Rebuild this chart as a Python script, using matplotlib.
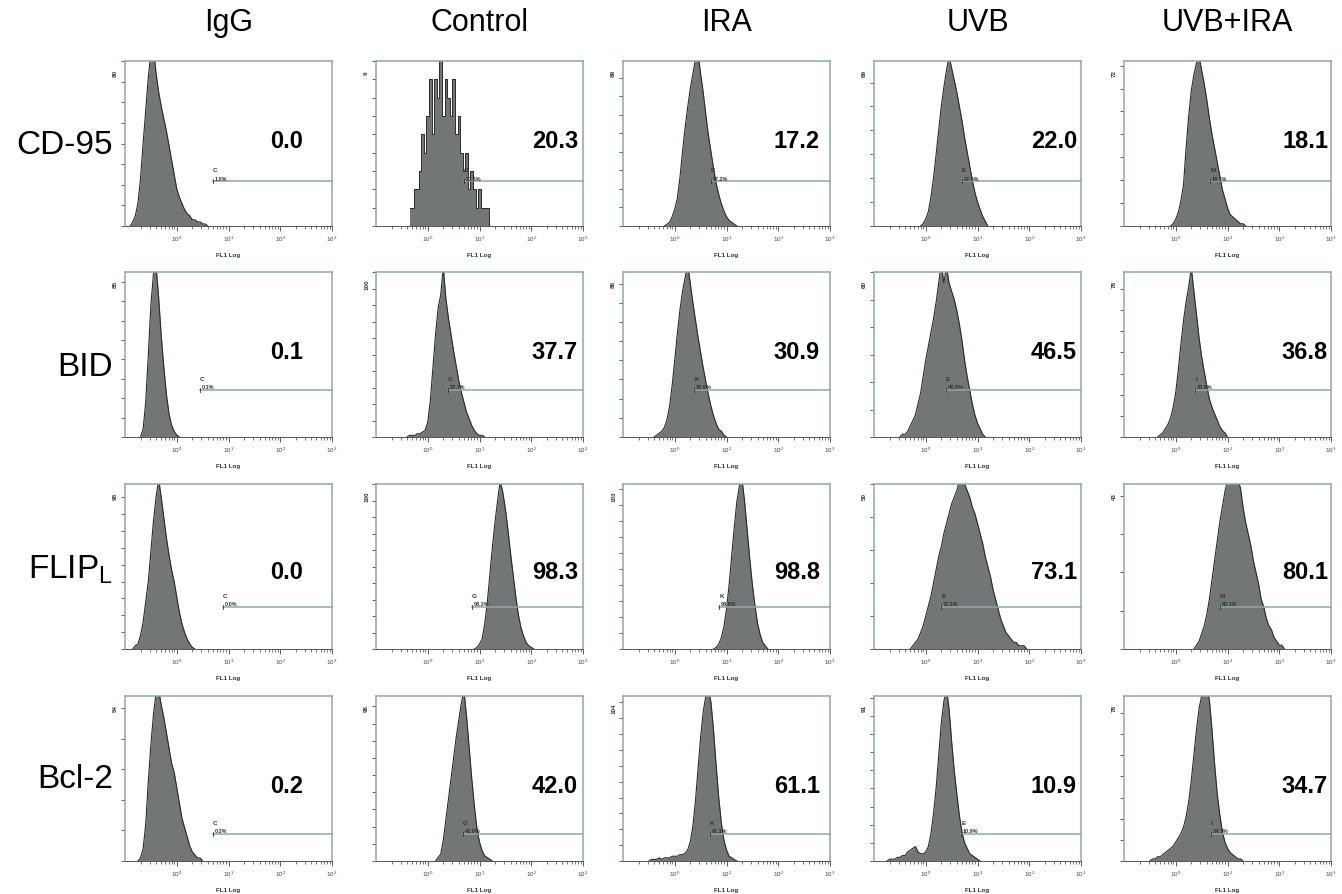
import numpy as np
import matplotlib.pyplot as plt

plt.rcParams['font.family'] = ['Liberation Sans', 'DejaVu Sans']
plt.rcParams['mathtext.fontset'] = 'custom'
plt.rcParams['mathtext.rm'] = 'Liberation Sans'

groups = ['IgG', 'Control', 'IRA', 'UVB', 'UVB+IRA']
markers = ['CD-95', 'BID', r'FLIP$_\mathregular{L}$', 'Bcl-2']

# big numbers printed in each panel (% positive)
cd95_pct = [0.0, 20.3, 17.2, 22.0, 18.1]
bid_pct = [0.1, 37.7, 30.9, 46.5, 36.8]
flip_pct = [0.0, 98.3, 98.8, 73.1, 80.1]
bcl2_pct = [0.2, 42.0, 61.1, 10.9, 34.7]

# small readout on the marker line
cd95_gate_txt = ['1.0%', '20.3%', '17.2%', '22.0%', '18.1%']
bid_gate_txt = ['0.1%', '37.7%', '30.9%', '46.5%', '36.8%']
flip_gate_txt = ['0.0%', '98.3%', '98.8%', '73.1%', '80.1%']
bcl2_gate_txt = ['0.2%', '42.0%', '61.1%', '10.9%', '34.7%']

cd95_gate_id = ['C', 'G', 'K', 'E', 'M']
bid_gate_id = ['C', 'G', 'K', 'E', 'I']
flip_gate_id = ['C', 'G', 'K', 'E', 'M']
bcl2_gate_id = ['C', 'G', 'K', 'E', 'I']

# marker start (log10 FL1)
cd95_gate_start = [0.70, 0.70, 0.70, 0.70, 0.67]
bid_gate_start = [0.45, 0.39, 0.38, 0.385, 0.38]
flip_gate_start = [0.89, 0.85, 0.86, 0.30, 0.85]
bcl2_gate_start = [0.70, 0.68, 0.68, 0.69, 0.68]

# y-axis max printed by the cytometer
cd95_ymax = [80, 9, 89, 69, 72]
bid_ymax = [85, 100, 86, 60, 78]
flip_ymax = [98, 100, 103, 50, 43]
bcl2_ymax = [54, 96, 104, 91, 78]
cd95_ystep = [10, 1, 10, 10, 10]

# histograms: first channel (log10 FL1) and counts every 0.05 decade
cd95_start = [-0.90, -0.35, -0.20, -0.10, -0.10]
cd95_counts = [
    [0, 2, 5, 11, 23, 40, 56, 72, 84, 86, 74, 65, 58, 52, 46, 39, 32, 25, 18,
     14, 11, 8, 6, 5, 3, 3, 2, 2, 1, 1, 0],
    [1, 1, 2, 2, 3, 5, 4, 6, 8, 5, 8, 7, 10, 6, 8, 7, 6, 8, 5, 6, 4, 3, 4, 2,
     3, 2, 1, 2, 1, 1, 1, 0],
    [0, 1, 2, 5, 9, 15, 26, 40, 53, 64, 74, 82, 90, 93, 82, 72, 60, 49, 40,
     31, 23, 17, 12, 8, 5, 3, 2, 1, 0],
    [0, 1, 3, 6, 12, 20, 30, 40, 50, 58, 65, 71, 66, 61, 56, 50, 44, 37, 31,
     25, 19, 14, 10, 7, 4, 2, 0],
    [0, 1, 3, 6, 11, 18, 34, 48, 59, 66, 71, 74, 68, 62, 55, 47, 40, 34, 28,
     22, 16, 12, 8, 5, 4, 3, 2, 1, 1, 0],
]
bid_start = [-0.70, -0.40, -0.40, -0.50, -0.35]
bid_counts = [
    [0, 4, 18, 42, 68, 84, 88, 72, 52, 36, 22, 12, 6, 3, 1, 0],
    [0, 1, 1, 1, 2, 2, 3, 4, 9, 22, 42, 62, 78, 86, 103, 84, 72, 62, 52, 43,
     34, 27, 21, 15, 11, 7, 4, 2, 1, 1, 0],
    [0, 1, 2, 3, 5, 9, 16, 27, 40, 54, 66, 76, 83, 90, 80, 70, 61, 52, 44, 36,
     29, 22, 16, 11, 7, 4, 3, 1, 0],
    [0, 1, 1, 2, 4, 6, 8, 12, 16, 22, 28, 33, 38, 43, 49, 56, 63, 56, 62, 56,
     53, 50, 46, 41, 35, 28, 22, 17, 12, 8, 5, 3, 1, 0],
    [0, 1, 2, 4, 6, 9, 14, 21, 32, 44, 55, 64, 71, 80, 69, 58, 47, 38, 31, 24,
     18, 14, 11, 8, 5, 3, 2, 0],
]
flip_start = [-0.85, 0.90, 0.75, -0.30, 0.35]
flip_counts = [
    [0, 2, 3, 8, 16, 28, 40, 58, 76, 90, 101, 90, 78, 66, 56, 47, 40, 31, 22,
     15, 10, 6, 3, 1, 0],
    [0, 1, 3, 6, 15, 28, 45, 62, 77, 90, 102, 95, 85, 72, 58, 45, 32, 21, 13,
     8, 4, 2, 1, 0],
    [0, 1, 3, 7, 14, 25, 40, 58, 76, 92, 102, 106, 92, 74, 56, 40, 27, 16, 9,
     4, 2, 0],
    [0, 1, 2, 3, 5, 7, 10, 13, 16, 20, 24, 28, 31, 35, 38, 41, 44, 46, 48, 51,
     52, 50, 48, 46, 43, 41, 38, 35, 32, 28, 25, 22, 18, 15, 12, 9, 7, 5, 4,
     3, 2, 2, 1, 1, 1, 0],
    [0, 1, 2, 4, 6, 9, 13, 18, 23, 28, 33, 37, 41, 44, 45, 43, 46, 44, 42, 37,
     33, 30, 27, 23, 20, 17, 13, 11, 8, 6, 5, 3, 2, 1, 1, 0],
]
bcl2_start = [-0.75, 0.15, -0.50, -0.75, -0.50]
bcl2_counts = [
    [0, 1, 4, 12, 26, 38, 48, 55, 56, 51, 47, 42, 37, 32, 29, 24, 19, 14, 11,
     8, 5, 3, 2, 1, 1, 0],
    [0, 2, 4, 12, 24, 36, 48, 60, 72, 82, 92, 99, 84, 66, 48, 32, 19, 11, 6, 3,
     2, 1, 0],
    [0, 1, 1, 1, 2, 1, 2, 2, 2, 3, 3, 3, 4, 4, 5, 7, 12, 22, 38, 58, 78, 94,
     104, 108, 100, 82, 60, 40, 24, 13, 7, 3, 2, 1, 0],
    [0, 1, 1, 1, 2, 2, 3, 3, 5, 6, 7, 8, 5, 4, 4, 5, 8, 15, 26, 40, 58, 76, 88,
     95, 84, 66, 50, 37, 25, 16, 10, 7, 4, 3, 2, 1, 0],
    [0, 1, 1, 2, 2, 3, 4, 5, 6, 7, 9, 11, 13, 16, 21, 28, 38, 50, 62, 72, 78,
     80, 82, 76, 62, 46, 32, 22, 14, 9, 6, 4, 3, 2, 1, 1, 0],
]

rows = [
    (cd95_start, cd95_counts, cd95_ymax, cd95_pct, cd95_gate_txt, cd95_gate_id, cd95_gate_start),
    (bid_start, bid_counts, bid_ymax, bid_pct, bid_gate_txt, bid_gate_id, bid_gate_start),
    (flip_start, flip_counts, flip_ymax, flip_pct, flip_gate_txt, flip_gate_id, flip_gate_start),
    (bcl2_start, bcl2_counts, bcl2_ymax, bcl2_pct, bcl2_gate_txt, bcl2_gate_id, bcl2_gate_start),
]

W, H = 1342, 895
col_left = [125, 376, 623, 874, 1124]
row_top = [62, 273, 485, 697]
pw, ph = 207, 165
gate_y = [0.27, 0.285, 0.255, 0.165]
num_y = [0.52, 0.52, 0.47, 0.46]
num_dx = [29, 5, 10, 4, 3]
label_y = [145, 368, 570, 780]

frame_col = '#8ea8a6'
fill_col = '#727676'
edge_col = '#2a2c2c'
BIN = 0.05

fig = plt.figure(figsize=(W / 100, H / 100), dpi=100)

for j, g in enumerate(groups):
    fig.text((col_left[j] + pw / 2) / W, 1 - 23 / H, g, ha='center',
             va='center', fontsize=22)

for i, m in enumerate(markers):
    fig.text(113 / W, 1 - label_y[i] / H, m, ha='right', va='center',
             fontsize=24)

for i, (starts, counts, ymax, pct, gtxt, gid, gstart) in enumerate(rows):
    for j in range(5):
        ax = fig.add_axes([col_left[j] / W, 1 - (row_top[i] + ph) / H,
                           pw / W, ph / H])
        c = np.array(counts[j], dtype=float)
        x = 10 ** (starts[j] + BIN * np.arange(len(c)))
        if i == 0 and j == 1:
            # sparse control sample: blocky channels
            ax.fill_between(x, c, step='mid', color=fill_col, lw=0)
            ax.step(x, c, where='mid', color=edge_col, lw=0.7)
        else:
            ax.fill_between(x, c, color=fill_col, lw=0)
            ax.plot(x, c, color=edge_col, lw=0.8)

        ax.set_xscale('log')
        ax.set_xlim(0.1, 1000)
        ax.set_ylim(0, ymax[j])
        step = cd95_ystep[j] if i == 0 else 10
        ax.set_yticks(np.arange(0, ymax[j] + 0.01, step))
        ax.set_yticklabels([])
        ax.set_xticks([1, 10, 100, 1000])
        ax.set_xticklabels([r'$10^0$', r'$10^1$', r'$10^2$', r'$10^3$'])
        ax.tick_params(axis='x', which='major', length=3.5, width=0.6,
                       labelsize=4.5, pad=2, colors='#444444')
        ax.tick_params(axis='x', which='minor', length=2, width=0.5,
                       colors='#444444')
        ax.tick_params(axis='y', length=3, width=0.6, colors='#444444')
        for s in ax.spines.values():
            s.set_color(frame_col)
            s.set_linewidth(1.1)
        ax.spines['bottom'].set_color('#555555')
        ax.spines['bottom'].set_linewidth(0.7)

        ax.text(-0.045, 0.93, str(ymax[j]), transform=ax.transAxes,
                rotation=90, ha='center', va='center', fontsize=4.5,
                weight='bold', color='#333333')
        ax.text(0.5, -0.175, 'FL1 Log', transform=ax.transAxes, ha='center',
                va='center', fontsize=4.5, weight='bold', color='#333333')

        # marker line
        x0 = 10 ** gstart[j]
        tr = ax.get_xaxis_transform()
        ax.plot([x0, 1000], [gate_y[i], gate_y[i]], transform=tr,
                color=frame_col, lw=1.1, clip_on=False)
        ax.plot([x0, x0], [gate_y[i] - 0.012, gate_y[i] + 0.012],
                transform=tr, color='#333333', lw=0.6)
        ax.text(x0, gate_y[i] + 0.07, gid[j], transform=tr, fontsize=4.5,
                weight='bold', ha='left', va='center', color='#333333')
        ax.text(x0 * 1.08, gate_y[i] + 0.005, gtxt[j], transform=tr,
                fontsize=4, weight='bold', ha='left', va='bottom',
                color='#333333')

        ax.text(1 - num_dx[j] / pw, num_y[i], f'{pct[j]:.1f}',
                transform=ax.transAxes, ha='right', va='center',
                fontsize=17, weight='bold')

fig.savefig('out.png', dpi=100, facecolor='white')
